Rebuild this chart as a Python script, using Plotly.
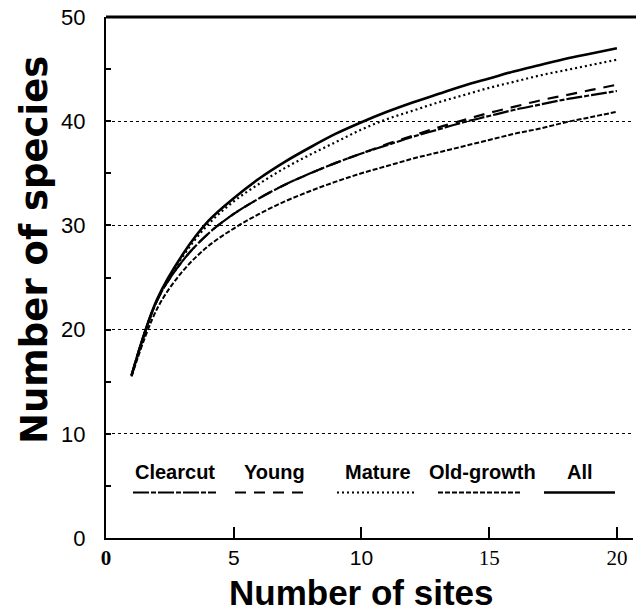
import plotly.graph_objects as go

# Species accumulation curves by forest age class
sites = list(range(1, 21))
clearcut = [15.6, 22.8, 26.6, 29.2, 31.1, 32.6, 33.9, 35.0, 36.0, 36.9,
            37.7, 38.5, 39.2, 39.9, 40.5, 41.1, 41.6, 42.1, 42.5, 42.9]
young = [15.6, 22.8, 26.6, 29.2, 31.1, 32.6, 33.9, 35.0, 36.0, 36.9,
         37.8, 38.6, 39.4, 40.1, 40.8, 41.4, 42.0, 42.5, 43.0, 43.5]
mature = [15.6, 22.8, 27.0, 30.1, 32.3, 34.0, 35.5, 36.8, 38.0, 39.2,
          40.2, 41.0, 41.8, 42.5, 43.2, 43.8, 44.4, 44.9, 45.4, 45.9]
old_growth = [15.5, 22.0, 25.6, 28.0, 29.7, 31.1, 32.3, 33.3, 34.2, 35.0,
              35.7, 36.4, 37.0, 37.6, 38.2, 38.8, 39.3, 39.9, 40.4, 40.9]
all_sites = [15.6, 22.9, 27.2, 30.4, 32.6, 34.5, 36.1, 37.5, 38.8, 39.9,
             40.9, 41.8, 42.6, 43.4, 44.1, 44.8, 45.4, 46.0, 46.5, 47.0]

series_names = ["Clearcut", "Young", "Mature", "Old-growth", "All"]
series_values = [clearcut, young, mature, old_growth, all_sites]
series_dash = ["16px,2px,5px,2px", "11px,8px", "2px,3px", "5px,2px", "solid"]
series_width = [2.2, 2.2, 2.2, 2.0, 2.6]

x_tickvals = [0, 5, 10, 15, 20]
x_ticktext = [
    "<span style='font-family:Liberation Serif;font-weight:bold'>0</span>",
    "5",
    "10",
    "<span style='font-family:Liberation Serif'>15</span>",
    "<span style='font-family:Liberation Serif'>20</span>",
]
y_tickvals = [0, 10, 20, 30, 40, 50]

fig = go.Figure()
for name, vals, dash, w in zip(series_names, series_values, series_dash, series_width):
    fig.add_trace(go.Scatter(
        x=sites, y=vals, mode="lines", name=name,
        line=dict(color="black", width=w, dash=dash, shape="spline", smoothing=1.0),
        showlegend=False,
    ))

# Plot-area pixel geometry helpers (paper coordinates)
L, R, T, B = 106, 633, 17, 538
def px(xp):
    return (xp - L) / (R - L)
def py(yp):
    return (B - yp) / (B - T)

annotations = []
shapes = []

# Hand-drawn legend: labels above line samples
legend_items = [
    ("Clearcut", 175, 133, 216),
    ("Young", 274, 235, 306),
    ("Mature", 378, 337, 415),
    ("Old-growth", 482, 438, 520),
    ("All", 580, 544, 615),
]
for (name, tx, lx0, lx1), dash, w in zip(legend_items, series_dash, series_width):
    annotations.append(dict(
        text=name, xref="paper", yref="paper", x=px(tx), y=py(472),
        xanchor="center", yanchor="middle", showarrow=False,
        font=dict(family="Liberation Sans", size=20, color="black", weight="bold"),
    ))
    shapes.append(dict(
        type="line", xref="paper", yref="paper",
        x0=px(lx0), x1=px(lx1), y0=py(492.5), y1=py(492.5),
        line=dict(color="black", width=w, dash=dash),
    ))

# Axis titles
annotations.append(dict(
    text="Number of sites", xref="paper", yref="paper", x=px(361), y=py(592),
    xanchor="center", yanchor="middle", showarrow=False,
    font=dict(family="Liberation Sans", size=35, color="black", weight="bold"),
))
annotations.append(dict(
    text="Number of species", xref="paper", yref="paper", x=px(34), y=py(250),
    xanchor="center", yanchor="middle", showarrow=False, textangle=-90,
    font=dict(family="DejaVu Sans", size=37, color="black", weight="bold"),
))

# Heavy frame line along the top
shapes.append(dict(
    type="line", xref="paper", yref="paper", x0=0, x1=px(636), y0=1, y1=1,
    line=dict(color="black", width=3),
))

fig.update_layout(
    width=636, height=615,
    margin=dict(l=L, r=636 - R, t=T, b=615 - B),
    paper_bgcolor="white", plot_bgcolor="white",
    annotations=annotations, shapes=shapes,
    showlegend=False,
)
fig.update_xaxes(
    range=[0, 20.63], showline=True, linecolor="black", linewidth=2,
    tickvals=x_tickvals, ticktext=x_ticktext, ticks="inside", ticklen=11,
    tickwidth=1.5, tickcolor="black", showgrid=False, zeroline=False,
    tickfont=dict(family="Liberation Sans", size=21, color="black"),
    ticklabelstandoff=0,
)
fig.update_yaxes(
    range=[0, 50], showline=True, linecolor="black", linewidth=2,
    tickvals=y_tickvals, ticks="inside", ticklen=5, tickwidth=1.5, tickcolor="black",
    showgrid=True, gridcolor="black", gridwidth=1, griddash="dot", zeroline=False,
    minor=dict(dtick=5, tick0=5, ticks="inside", ticklen=5, tickwidth=1.5,
               tickcolor="black", showgrid=False),
    tickfont=dict(family="Liberation Sans", size=22, color="black"),
    ticklabelstandoff=14,
)

fig.write_html("out.html")
